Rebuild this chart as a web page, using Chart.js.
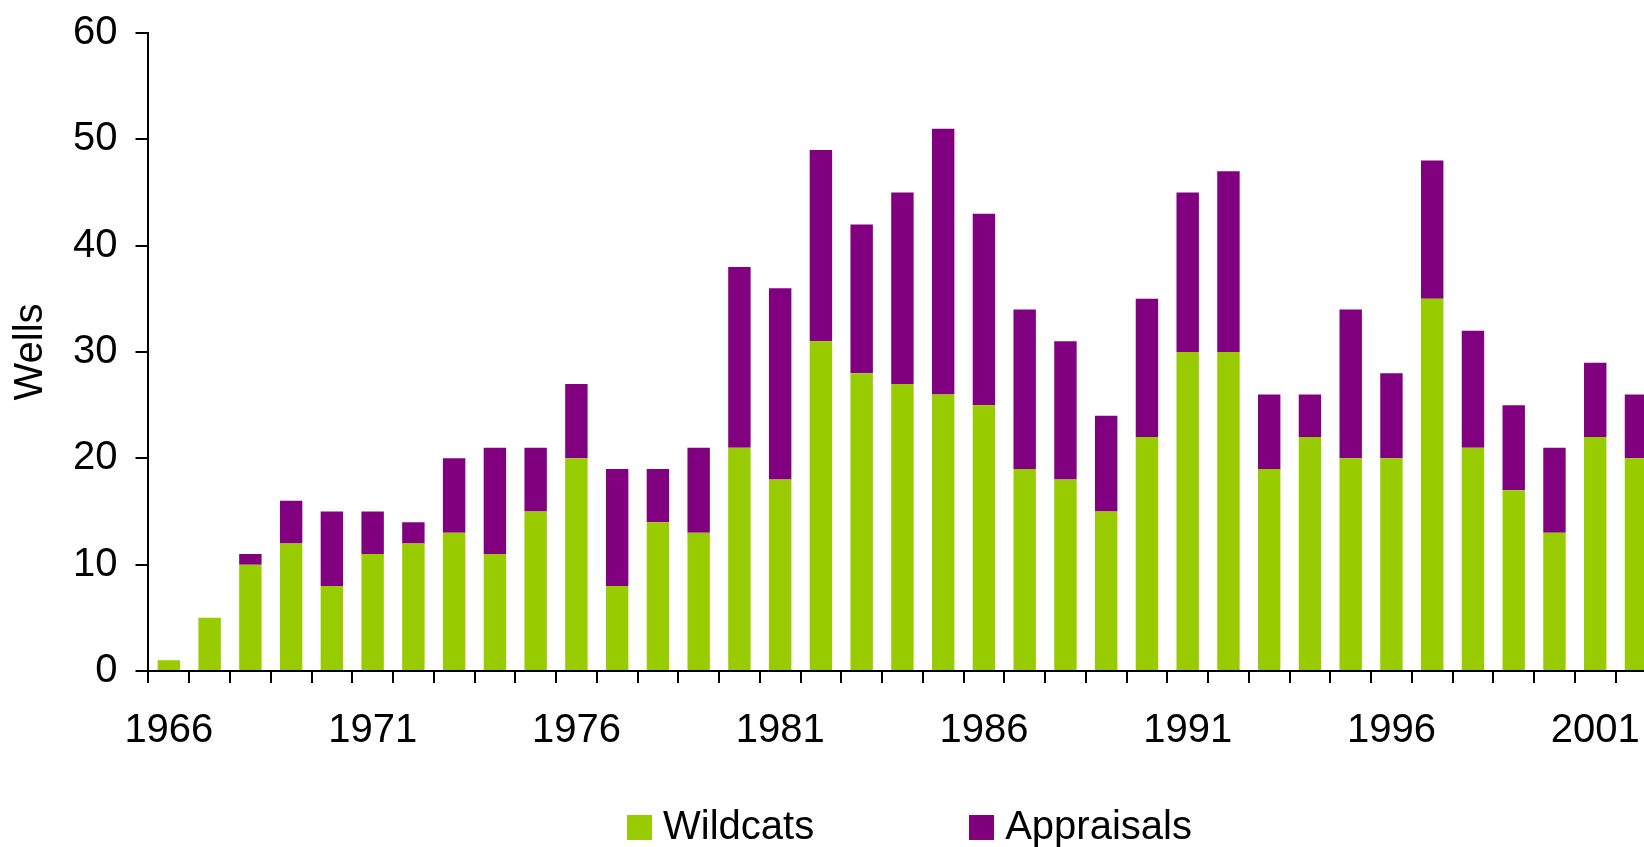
<!DOCTYPE html>
<html lang="en">
<head>
<meta charset="UTF-8">
<title>Wells drilled</title>
<script src="https://cdn.jsdelivr.net/npm/chart.js@4.4.1/dist/chart.umd.min.js"></script>
<style>
  html, body { margin: 0; padding: 0; background: #fff; overflow: hidden; }
  /* the original picture is cut off on the right, so the chart is a bit wider than the window */
  .chart-wrap { position: relative; width: 1660px; height: 847px; }
  #wellsChart { display: block; }
  .legend {
    position: absolute; left: 627px; top: 805px; display: flex;
    font-family: "Liberation Sans", Arial, Helvetica, sans-serif;
    font-size: 40px; line-height: 40px; color: #000;
  }
  .legend-item { display: flex; align-items: flex-start; margin-right: 155px; white-space: nowrap; }
  .legend-box { width: 25px; height: 25px; margin-top: 10px; margin-right: 11px; }
</style>
</head>
<body>
<div class="chart-wrap">
  <canvas id="wellsChart"></canvas>
  <div class="legend" id="legend"></div>
</div>
<script>
/* --- DATA --- */
const years = [
  1966, 1967, 1968, 1969, 1970, 1971, 1972, 1973, 1974, 1975,
  1976, 1977, 1978, 1979, 1980, 1981, 1982, 1983, 1984, 1985,
  1986, 1987, 1988, 1989, 1990, 1991, 1992, 1993, 1994, 1995,
  1996, 1997, 1998, 1999, 2000, 2001, 2002,
];
const wildcats = [
  1, 5, 10, 12, 8, 11, 12, 13, 11, 15,
  20, 8, 14, 13, 21, 18, 31, 28, 27, 26,
  25, 19, 18, 15, 22, 30, 30, 19, 22, 20,
  20, 35, 21, 17, 13, 22, 20,
];
const appraisals = [
  0, 0, 1, 4, 7, 4, 2, 7, 10, 6,
  7, 11, 5, 8, 17, 18, 18, 14, 18, 25,
  18, 15, 13, 9, 13, 15, 17, 7, 4, 14,
  8, 13, 11, 8, 8, 7, 6,
];
const labelledYears = [1966, 1971, 1976, 1981, 1986, 1991, 1996, 2001];
const yMin = 0;
const yMax = 60;
const yStep = 10;

document.addEventListener("DOMContentLoaded", () => {
  Chart.defaults.font.family = "'Liberation Sans', Arial, Helvetica, sans-serif";
  Chart.defaults.color = "#000";

  const axisGrid = (tickLength) => ({
    drawOnChartArea: false,
    drawTicks: true,
    color: "#000",
    lineWidth: 2,
    tickLength: tickLength,
  });

  const chart = new Chart(document.getElementById("wellsChart"), {
    type: "bar",
    data: {
      labels: years,
      datasets: [
        { label: "Wildcats", data: wildcats, backgroundColor: "#99cc00" },
        { label: "Appraisals", data: appraisals, backgroundColor: "#800080" },
      ],
    },
    options: {
      responsive: true,
      maintainAspectRatio: false,
      animation: false,
      layout: { padding: { top: 33, right: 2, bottom: 68, left: 0 } },
      datasets: { bar: { barPercentage: 0.55, categoryPercentage: 1 } },
      plugins: {
        legend: { display: false },
        tooltip: { enabled: false },
      },
      scales: {
        x: {
          stacked: true,
          grid: { ...axisGrid(12), offset: true },
          border: { color: "#000", width: 2 },
          ticks: {
            autoSkip: false,
            maxRotation: 0,
            padding: 24,
            font: { size: 40 },
            callback(value) {
              const year = this.getLabelForValue(value);
              return labelledYears.includes(year) ? String(year) : "";
            },
          },
        },
        y: {
          stacked: true,
          min: yMin,
          max: yMax,
          grid: axisGrid(13),
          border: { color: "#000", width: 2 },
          // small lineHeight so the top label does not push the plot down
          ticks: { stepSize: yStep, padding: 18, font: { size: 40, lineHeight: 0.7 } },
          title: {
            display: true,
            text: "Wells",
            font: { size: 40 },
            padding: { top: 7, bottom: 0 },
          },
        },
      },
    },
  });

  // Legend as plain html, built from the datasets
  const legend = document.getElementById("legend");
  chart.data.datasets.forEach((ds) => {
    const item = document.createElement("div");
    item.className = "legend-item";
    const box = document.createElement("span");
    box.className = "legend-box";
    box.style.background = ds.backgroundColor;
    const text = document.createElement("span");
    text.textContent = ds.label;
    item.appendChild(box);
    item.appendChild(text);
    legend.appendChild(item);
  });
});
</script>
</body>
</html>
